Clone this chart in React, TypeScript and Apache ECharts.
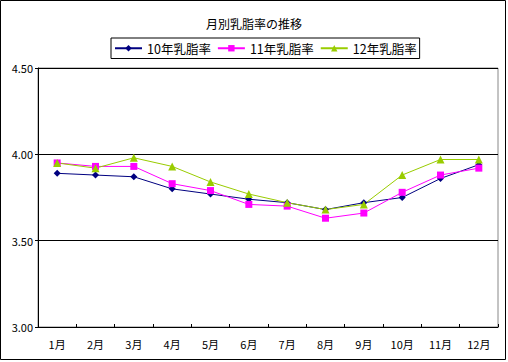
import React, { useEffect, useRef } from "react";
import * as echarts from "echarts";

const months = ["1月", "2月", "3月", "4月", "5月", "6月", "7月", "8月", "9月", "10月", "11月", "12月"];
const y10 = [3.89, 3.88, 3.87, 3.8, 3.77, 3.74, 3.72, 3.68, 3.72, 3.75, 3.86, 3.94];
const y11 = [3.95, 3.93, 3.93, 3.83, 3.79, 3.71, 3.7, 3.63, 3.66, 3.78, 3.88, 3.92];
const y12 = [3.95, 3.92, 3.98, 3.93, 3.84, 3.77, 3.72, 3.68, 3.71, 3.88, 3.97, 3.97];
const seriesNames = ["10年乳脂率", "11年乳脂率", "12年乳脂率"];
const title = "月別乳脂率の推移";

const FONT = "'Noto Sans CJK JP', 'Noto Sans', sans-serif";

export default function App() {
  const ref = useRef<HTMLDivElement>(null);
  useEffect(() => {
    if (!ref.current) return;
    const chart = echarts.init(ref.current, null, { renderer: "svg" });
    const mk = (name: string, data: number[], color: string, symbol: string, size: number) => ({
      name,
      type: "line",
      data,
      symbol,
      symbolSize: size,
      showSymbol: true,
      lineStyle: { color, width: 1 },
      itemStyle: { color },
    });
    chart.setOption({
      animation: false,
      backgroundColor: "#fff",
      textStyle: { fontFamily: FONT },
      title: {
        text: title,
        left: "center",
        top: 12,
        textStyle: { fontSize: 12, fontWeight: "normal", color: "#000", fontFamily: FONT },
      },
      legend: {
        top: 38,
        left: 111,
        data: seriesNames,
        itemWidth: 27,
        itemHeight: 8,
        itemGap: 6,
        padding: [4, 3, 4, 3],
        borderColor: "#000",
        borderWidth: 1,
        textStyle: { fontSize: 12.5, color: "#000", fontFamily: FONT },
      },
      grid: { left: 38, right: 10, top: 68, bottom: 35, show: true, borderColor: "#888", borderWidth: 1 },
      xAxis: {
        type: "category",
        data: months,
        boundaryGap: true,
        axisLine: { lineStyle: { color: "#000", width: 1 } },
        axisTick: { show: true, inside: true, length: 3, lineStyle: { color: "#000" } },
        axisLabel: { fontSize: 11, color: "#000", margin: 11, fontFamily: FONT },
      },
      yAxis: {
        type: "value",
        min: 3,
        max: 4.5,
        interval: 0.5,
        axisLine: { show: true, lineStyle: { color: "#000", width: 1 } },
        axisTick: { show: true, length: 3, lineStyle: { color: "#000" } },
        axisLabel: {
          fontSize: 11,
          color: "#000",
          margin: 5,
          fontFamily: FONT,
          formatter: (v: number) => v.toFixed(2),
        },
        splitLine: { show: true, lineStyle: { color: "#000", width: 1 } },
      },
      graphic: [
        {
          type: "rect",
          shape: { x: 0.5, y: 0.5, width: 505, height: 359 },
          style: { fill: "none", stroke: "#000", lineWidth: 1 },
          silent: true,
          z: 100,
        },
      ],
      series: [
        mk(seriesNames[0], y10, "#000080", "diamond", 7),
        mk(seriesNames[1], y11, "#FF00FF", "rect", 7),
        mk(seriesNames[2], y12, "#99CC00", "triangle", 8),
      ],
    });
    return () => chart.dispose();
  }, []);
  return (
    <div
      ref={ref}
      style={{ position: "fixed", left: 0, top: 0, width: 508, height: 362 }}
    />
  );
}
